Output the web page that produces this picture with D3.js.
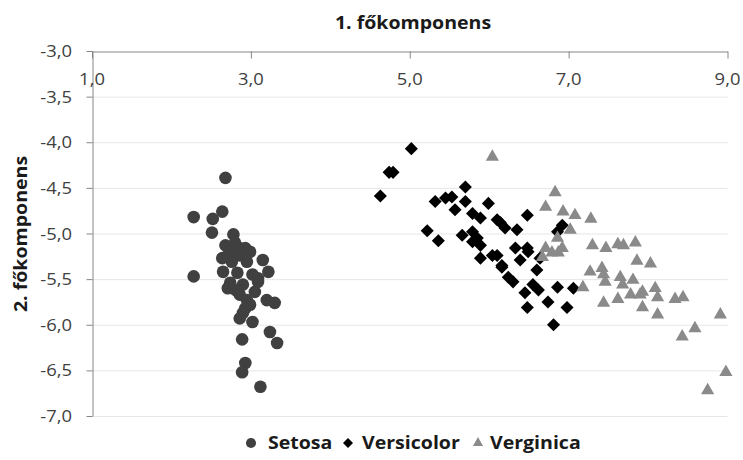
<!DOCTYPE html>
<html><head><meta charset="utf-8">
<script src="https://cdn.jsdelivr.net/npm/d3@7"></script>
<style>body{margin:0;background:#fff}svg{display:block}</style>
</head><body><svg id="c" width="743" height="460"></svg>
<script>
const seriesNames = ["Setosa", "Versicolor", "Verginica"];
const xTicks = [1, 3, 5, 7, 9];
const yTicks = [-3, -3.5, -4, -4.5, -5, -5.5, -6, -6.5, -7];
const xTitle = "1. főkomponens";
const yTitle = "2. főkomponens";

const setosa = [
  [2.68,-4.39],[2.28,-4.82],[2.64,-4.76],[2.52,-4.84],[2.51,-4.99],[2.78,-5.01],
  [2.68,-5.13],[2.80,-5.10],[2.93,-5.16],[2.71,-5.24],[2.86,-5.24],[2.99,-5.20],
  [2.76,-5.31],[2.64,-5.27],[2.95,-5.31],[3.15,-5.29],[3.22,-5.42],[2.28,-5.47],
  [2.65,-5.42],[2.83,-5.43],[3.02,-5.45],[3.09,-5.49],[2.74,-5.54],[2.71,-5.60],
  [2.90,-5.56],[3.09,-5.53],[2.95,-5.73],[3.20,-5.73],[3.30,-5.76],[2.90,-5.87],
  [3.02,-5.97],[2.86,-5.93],[2.89,-6.16],[3.24,-6.08],[3.33,-6.20],[2.93,-6.42],
  [2.89,-6.52],[3.12,-6.68],[2.86,-5.67],[2.93,-5.82],[2.81,-5.62],[3.05,-5.64],
  [2.99,-5.78],[2.84,-5.15],[2.75,-5.19]
];
const versicolor = [
  [5.02,-4.07],[4.79,-4.33],[4.74,-4.33],[4.63,-4.59],[5.70,-4.49],[5.32,-4.65],
  [5.45,-4.61],[5.53,-4.60],[5.70,-4.65],[5.99,-4.67],[5.57,-4.74],[5.79,-4.78],
  [5.89,-4.83],[6.10,-4.85],[5.22,-4.97],[5.36,-5.08],[5.66,-5.02],[5.79,-4.98],
  [5.85,-5.05],[5.89,-5.13],[5.79,-5.09],[5.89,-5.27],[6.04,-5.24],[6.16,-5.35],
  [6.48,-4.80],[6.14,-4.88],[6.20,-4.94],[6.35,-4.96],[6.92,-4.91],[6.86,-4.98],
  [6.33,-5.16],[6.48,-5.16],[6.49,-5.20],[6.10,-5.24],[6.39,-5.29],[6.64,-5.27],
  [6.16,-5.37],[6.60,-5.40],[6.24,-5.48],[6.30,-5.53],[6.55,-5.56],[6.62,-5.62],
  [6.86,-5.59],[7.06,-5.60],[6.45,-5.65],[6.74,-5.75],[6.48,-5.81],[6.98,-5.81],
  [6.81,-6.00]
];
const virginica = [
  [6.04,-4.16],[6.83,-4.55],[6.71,-4.71],[6.93,-4.76],[7.08,-4.80],[7.28,-4.84],
  [7.02,-4.96],[6.86,-5.05],[6.71,-5.16],[6.92,-5.16],[6.79,-5.21],[6.67,-5.26],
  [6.87,-5.21],[7.30,-5.13],[7.47,-5.16],[7.62,-5.12],[7.69,-5.13],[7.84,-5.10],
  [7.86,-5.30],[8.03,-5.33],[7.27,-5.42],[7.42,-5.38],[7.44,-5.45],[7.46,-5.53],
  [7.65,-5.48],[7.81,-5.51],[7.68,-5.56],[7.18,-5.59],[7.93,-5.64],[7.78,-5.67],
  [8.09,-5.60],[8.12,-5.70],[7.44,-5.76],[7.62,-5.72],[7.93,-5.81],[8.34,-5.72],
  [8.44,-5.70],[7.90,-5.67],[8.12,-5.89],[8.91,-5.89],[8.59,-6.04],[8.43,-6.13],
  [8.98,-6.52],[8.75,-6.72]
];

const svg = d3.select("#c");
const font = "'Open Sans', sans-serif";
const SX = 1.15;
const x = d3.scaleLinear().domain([1, 9]).range([92, 727.5]);
const y = d3.scaleLinear().domain([-3, -7]).range([51, 416]);
const fmt = v => d3.format(".1f")(v).replace(".", ",").replace("\u2212", "-");

function txt(str, px, py, opts) {
  const o = Object.assign({size: 16, weight: 400, anchor: "middle", rot: 0, fill: "#404040"}, opts);
  return svg.append("text").text(str)
    .attr("transform", `translate(${px},${py}) rotate(${o.rot}) scale(${SX},1)`)
    .attr("font-family", font).attr("font-size", o.size).attr("font-weight", o.weight)
    .attr("text-anchor", o.anchor).attr("fill", o.fill);
}

// gridlines
svg.append("g").selectAll("line").data(yTicks.filter(v => v !== -3)).join("line")
  .attr("x1", x(1)).attr("x2", x(9)).attr("y1", d => y(d) + 0.5).attr("y2", d => y(d) + 0.5)
  .attr("stroke", "#e6e6e6").attr("stroke-width", 1);

// y axis (left)
const gy = svg.append("g").attr("transform", `translate(${x(1) + 0.5},0)`)
  .call(d3.axisLeft(y).tickValues(yTicks).tickSize(6).tickSizeOuter(0).tickFormat(""));
gy.selectAll("path,line").attr("stroke", "#868686");
// x axis (top)
const gx = svg.append("g").attr("transform", `translate(0,${y(-3) + 0.5})`)
  .call(d3.axisTop(x).tickValues(xTicks).tickSize(-7).tickSizeOuter(0).tickFormat(""));
gx.selectAll("path,line").attr("stroke", "#868686");

// tick labels
xTicks.forEach(v => txt(fmt(v), x(v), 85, {size: 16}));
yTicks.forEach(v => txt(fmt(v), 72, y(v) + 6, {size: 16, anchor: "end"}));

// titles
txt(xTitle, 413, 29, {size: 17, weight: 700, fill: "#1a1a1a"});
txt(yTitle, 27, 234, {size: 17, weight: 700, fill: "#1a1a1a", rot: -90});

// marks
const sets = [
  {data: setosa, type: d3.symbolCircle, size: 125, color: "#404040", rot: 0},
  {data: versicolor, type: d3.symbolSquare, size: 85, color: "#000000", rot: 45},
  {data: virginica, type: d3.symbolTriangle, size: 75, color: "#8a8a8a", rot: 0}
];
sets.forEach(s => {
  const sym = d3.symbol().type(s.type).size(s.size);
  svg.append("g").selectAll("path").data(s.data).join("path")
    .attr("d", sym)
    .attr("transform", d => `translate(${x(d[0])},${y(d[1])}) rotate(${s.rot})`)
    .attr("fill", s.color);
});

// legend
const legX = [251, 348, 478];
const legTextX = [268, 362, 490];
const legSize = [80, 50, 45];
sets.forEach((s, i) => {
  svg.append("path").attr("d", d3.symbol().type(s.type).size(legSize[i]))
    .attr("transform", `translate(${legX[i]},443) rotate(${s.rot})`)
    .attr("fill", s.color);
  txt(seriesNames[i], legTextX[i], 449, {size: 17, weight: 700, anchor: "start", fill: "#1a1a1a"});
});
</script></body></html>
